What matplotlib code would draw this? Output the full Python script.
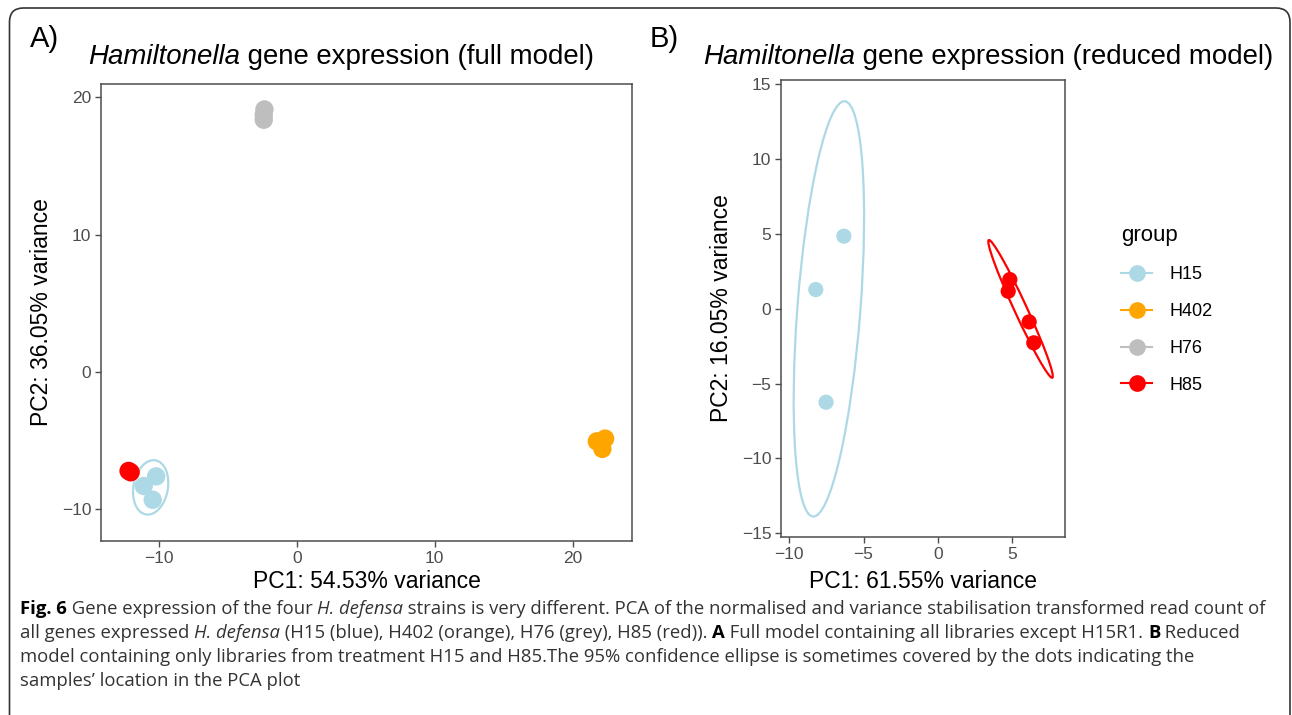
import matplotlib
matplotlib.use("Agg")
import matplotlib.pyplot as plt
from matplotlib.patches import Ellipse, FancyBboxPatch
from matplotlib.lines import Line2D
from matplotlib.transforms import IdentityTransform

plt.rcParams["font.family"] = ["Liberation Sans", "DejaVu Sans"]

# groups and colours
groups = ["H15", "H402", "H76", "H85"]
colors = {"H15": "#ADD8E6", "H402": "#FFA500", "H76": "#BEBEBE", "H85": "#FF0000"}

# full model PCA scores
full_x = {
    "H15": [-11.1, -10.2, -10.45],
    "H402": [21.75, 22.35, 22.15],
    "H76": [-2.35, -2.4, -2.4],
    "H85": [-12.2, -12.05],
}
full_y = {
    "H15": [-8.3, -7.6, -9.3],
    "H402": [-5.05, -4.85, -5.6],
    "H76": [19.1, 18.7, 18.35],
    "H85": [-7.2, -7.3],
}
# 95% ellipses: centre x, centre y, major, minor, angle
full_ell = {"H15": (-10.6, -8.4, 4.0, 2.5, 80)}

# reduced model PCA scores
red_x = {"H15": [-6.32, -8.21, -7.52], "H85": [4.84, 4.73, 6.14, 6.45]}
red_y = {"H15": [4.86, 1.29, -6.24], "H85": [1.96, 1.18, -0.87, -2.27]}
red_ell = {"H15": (-7.33, 0.0, 27.84, 4.24, 85.6), "H85": (5.56, 0.0, 10.14, 0.84, -65.1)}

full_xticks = [-10, 0, 10, 20]
full_yticks = [-10, 0, 10, 20]
red_xticks = [-10, -5, 0, 5]
red_yticks = [-15, -10, -5, 0, 5, 10, 15]

W, H = 1292, 715
fig = plt.figure(figsize=(W / 100, H / 100), dpi=100)


def px_axes(l, t, r, b):
    return fig.add_axes([l / W, 1 - b / H, (r - l) / W, (b - t) / H])


def style(ax):
    for s in ax.spines.values():
        s.set_color("#4D4D4D")
        s.set_linewidth(1.1)
    ax.tick_params(length=4, width=1.0, color="#4D4D4D", labelcolor="#4D4D4D",
                   labelsize=12.5, pad=3)


def scatter_panel(ax, xs, ys, ells, size):
    for g, (cx, cy, w, h, ang) in ells.items():
        ax.add_patch(Ellipse((cx, cy), w, h, angle=ang, fill=False,
                             edgecolor=colors[g], lw=1.6))
    for g in groups:
        if g in xs:
            ax.scatter(xs[g], ys[g], s=size, color=colors[g], edgecolors="none", zorder=3)


def minus(ticks):
    return [str(t).replace("-", "\u2212") for t in ticks]


axA = px_axes(101, 84, 632, 541)
scatter_panel(axA, full_x, full_y, full_ell, 175)
axA.set_xlim(-14.2, 24.3)
axA.set_ylim(-12.3, 20.95)
axA.set_xticks(full_xticks)
axA.set_yticks(full_yticks)
axA.set_xticklabels(minus(full_xticks))
axA.set_yticklabels(minus(full_yticks))
style(axA)
axA.set_xlabel("PC1: 54.53% variance", fontsize=16.5, labelpad=3)
axA.set_ylabel("PC2: 36.05% variance", fontsize=16.5, labelpad=6)

axB = px_axes(781, 80, 1065, 537)
scatter_panel(axB, red_x, red_y, red_ell, 120)
axB.set_xlim(-10.55, 8.55)
axB.set_ylim(-15.25, 15.3)
axB.set_xticks(red_xticks)
axB.set_yticks(red_yticks)
axB.set_xticklabels(minus(red_xticks))
axB.set_yticklabels(minus(red_yticks))
style(axB)
axB.set_xlabel("PC1: 61.55% variance", fontsize=16.5, labelpad=6)
axB.set_ylabel("PC2: 16.05% variance", fontsize=16.5, labelpad=6)

# legend
handles = [Line2D([], [], color=colors[g], marker="o", markersize=11, lw=1.5) for g in groups]
leg = fig.legend(handles, groups, title="group", loc="upper left",
                 bbox_to_anchor=(1105 / W, 1 - 209 / H), frameon=False,
                 fontsize=13, title_fontsize=16, handlelength=1.7,
                 labelspacing=1.1, handletextpad=0.95)
leg._legend_box.align = "left"

renderer = fig.canvas.get_renderer()


def runs(x, y, parts, **kw):
    # write text pieces one after another on a baseline, pixels from top-left
    for txt, extra in parts:
        opts = dict(kw)
        opts.update(extra)
        t = fig.text(x / W, 1 - y / H, txt, va="baseline", ha="left", **opts)
        bb = t.get_window_extent(renderer)
        x += bb.width


# panel tags and titles
fig.text(30 / W, 1 - 47 / H, "A)", fontsize=21, va="baseline")
fig.text(650 / W, 1 - 47 / H, "B)", fontsize=21, va="baseline")
runs(88, 64, [("Hamiltonella", {"style": "italic"}),
              (" gene expression (full model)", {})], fontsize=19.9)
runs(703, 64, [("Hamiltonella", {"style": "italic"}),
               (" gene expression (reduced model)", {})], fontsize=19.9)

# caption
cap = dict(fontsize=13.3, family=["Open Sans", "DejaVu Sans"], color="#333333")
bold = {"weight": "bold", "color": "black"}
ital = {"style": "italic"}
caption_lines = [
    [("Fig. 6", bold), (" Gene expression of the four ", {}), ("H. defensa", ital),
     (" strains is very different. PCA of the normalised and variance stabilisation transformed read count of", {})],
    [("all genes expressed ", {}), ("H. defensa", ital),
     (" (H15 (blue), H402 (orange), H76 (grey), H85 (red)). ", {}), ("A", bold),
     (" Full model containing all libraries except H15R1. ", {}), ("B", bold), (" Reduced", {})],
    [("model containing only libraries from treatment H15 and H85.The 95% confidence ellipse is sometimes covered by the dots indicating the", {})],
    [("samples\u2019 location in the PCA plot", {})],
]
for i, line in enumerate(caption_lines):
    runs(20, 614 + i * 24, line, **cap)

# outer frame
frame = FancyBboxPatch((9.5, -40), 1280.5, H - 8 + 40, boxstyle="round,pad=0,rounding_size=14",
                       transform=IdentityTransform(), fill=False, edgecolor="#333333", lw=1.2)
fig.add_artist(frame)

fig.savefig("out.png", dpi=100)
